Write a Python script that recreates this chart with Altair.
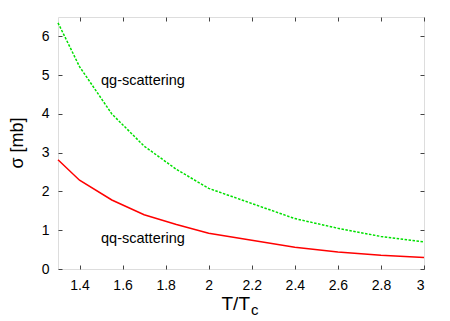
import altair as alt
import pandas as pd

# data
T = [1.3, 1.4, 1.55, 1.7, 1.85, 2.0, 2.2, 2.4, 2.6, 2.8, 3.0]
qg = [6.35, 5.22, 4.0, 3.17, 2.57, 2.08, 1.69, 1.30, 1.05, 0.84, 0.70]
qq = [2.82, 2.29, 1.78, 1.40, 1.15, 0.92, 0.74, 0.56, 0.44, 0.355, 0.295]
x_ticks = [1.4, 1.6, 1.8, 2.0, 2.2, 2.4, 2.6, 2.8, 3.0]
y_ticks = [0, 1, 2, 3, 4, 5, 6]
labels = ["qg-scattering", "qq-scattering"]
label_x = [1.5, 1.5]
label_y = [4.84, 0.77]

W, H = 366, 252
FONT = "Liberation Sans"

df = pd.DataFrame({
    "T": T * 2,
    "sigma": qg + qq,
    "proc": ["qg"] * len(T) + ["qq"] * len(T),
})
lab = pd.DataFrame({"text": labels, "x": label_x, "y": label_y})

xs = alt.Scale(domain=[1.3, 3.0], nice=False, zero=False)
ys = alt.Scale(domain=[0, 6.5], nice=False, zero=False)

def xaxis(**kw):
    base = dict(values=x_ticks, grid=False, domain=False, tickColor="#444",
                tickSize=4, labelFont=FONT, labelFontSize=14, labelColor="black",
                format=".1~f", labelPadding=9, title=None)
    base.update(kw)
    return alt.Axis(**base)

def yaxis(**kw):
    base = dict(values=y_ticks, grid=False, domain=False, tickColor="#444",
                tickSize=4, labelFont=FONT, labelFontSize=14, labelColor="black",
                labelPadding=9, title=None)
    base.update(kw)
    return alt.Axis(**base)

qg_line = alt.Chart(df[df.proc == "qg"]).mark_line(
    color="#00e000", strokeWidth=1.5, strokeDash=[2.5, 1.5]
).encode(
    x=alt.X("T:Q", scale=xs, axis=xaxis(ticks=False)),
    y=alt.Y("sigma:Q", scale=ys, axis=yaxis(ticks=False)),
)
qq_line = alt.Chart(df[df.proc == "qq"]).mark_line(
    color="#ff0000", strokeWidth=1.5
).encode(
    x=alt.X("T:Q", scale=xs),
    y=alt.Y("sigma:Q", scale=ys),
)
texts = alt.Chart(lab).mark_text(
    align="left", baseline="middle", font=FONT, fontSize=14.5, color="black"
).encode(
    x=alt.X("x:Q", scale=xs),
    y=alt.Y("y:Q", scale=ys),
    text="text:N",
)
main = alt.layer(qg_line, qq_line, texts)

# inward ticks on bottom & left
ticks_bl = alt.Chart(df).mark_line(opacity=0).encode(
    x=alt.X("T:Q", scale=xs, axis=xaxis(orient="top", offset=-H, labels=False)),
    y=alt.Y("sigma:Q", scale=ys, axis=yaxis(orient="right", offset=-W, labels=False)),
)
# inward ticks on top & right
ticks_tr = alt.Chart(df).mark_line(opacity=0).encode(
    x=alt.X("T:Q", scale=xs, axis=xaxis(orient="bottom", offset=-H, labels=False)),
    y=alt.Y("sigma:Q", scale=ys, axis=yaxis(orient="left", offset=-W, labels=False)),
)

ytitle = alt.Chart(lab.head(1)).mark_text(
    text="σ [mb]", angle=270, font=FONT, fontSize=18, color="black",
    align="center", baseline="middle"
).encode(x=alt.value(-40), y=alt.value(126))
xtitle = alt.Chart(lab.head(1)).mark_text(
    text="T/T", font=FONT, fontSize=19, color="black",
    align="right", baseline="alphabetic"
).encode(x=alt.value(192), y=alt.value(293))
xsub = alt.Chart(lab.head(1)).mark_text(
    text="c", font=FONT, fontSize=15, color="black",
    align="left", baseline="alphabetic"
).encode(x=alt.value(193), y=alt.value(298))

chart = alt.layer(main, ticks_bl, ticks_tr, ytitle, xtitle, xsub).resolve_scale(
    x="independent", y="independent"
).properties(
    width=W, height=H,
    autosize=alt.AutoSizeParams(type="none"),
    padding={"left": 50, "top": 9, "right": 16, "bottom": 52},
).configure_view(stroke="black", strokeWidth=1).configure(background="white")

chart.save("out.html", embed_options={"renderer": "svg", "actions": False})
